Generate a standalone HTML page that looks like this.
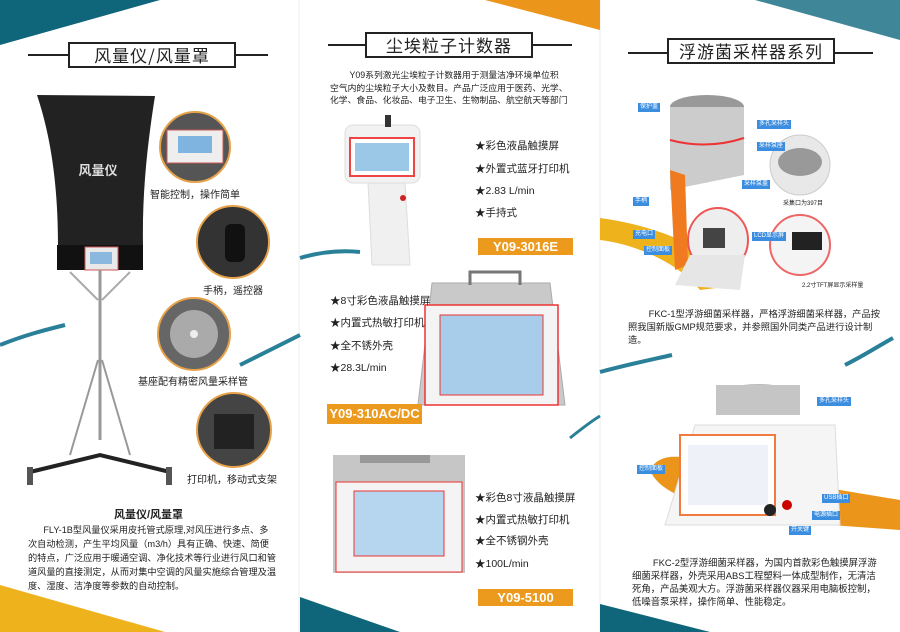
<!DOCTYPE html>
<html><head><meta charset="utf-8"><style>
body{margin:0;width:900px;height:632px;overflow:hidden;background:#fff;font-family:"Liberation Sans","Noto Sans CJK SC",sans-serif;position:relative;color:#222}
.a{position:absolute;white-space:nowrap}
.t{position:absolute;border:2px solid #222;background:#fff;font-size:17px;letter-spacing:1px;text-align:center;line-height:22px;white-space:nowrap;font-family:"Noto Sans CJK SC",sans-serif}
.ln{position:absolute;height:2px;background:#222}
.p{position:absolute;font-size:10px;line-height:14px;color:#222;white-space:nowrap}
.b{position:absolute;font-size:10.5px;white-space:nowrap}
.lab{position:absolute;background:#ec9a1d;color:#fff;font-size:13px;text-align:center;font-weight:bold}
.bl{position:absolute;background:#3b8de0;color:#fff;font-size:6px;padding:0 2px;line-height:9px;white-space:nowrap}
.cap{position:absolute;font-size:10px;white-space:nowrap}
</style></head><body>
<svg width="900" height="632" style="position:absolute;left:0;top:0">
<line x1="299" y1="0" x2="299" y2="632" stroke="#eee"/><line x1="600" y1="0" x2="600" y2="632" stroke="#eee"/>
<polygon points="0,0 160,0 0,45" fill="#0f6579"/>
<polygon points="485,0 600,0 600,30" fill="#ec951b"/>
<polygon points="755,0 900,0 900,40" fill="#3f8699"/>
<polygon points="0,585 165,632 0,632" fill="#eeb21d"/>
<polygon points="300,597 400,632 300,632" fill="#0f6579"/>
<polygon points="600,604 710,632 600,632" fill="#0f6579"/>
<path d="M600,218 C650,225 690,240 720,265 L740,285 L700,290 C680,265 640,245 600,240Z" fill="#eeb21d"/>
<path d="M650,470 C660,450 690,455 720,470 L900,500 L900,530 L760,520 C700,505 660,495 650,470Z" fill="#ec951b"/>
<path d="M0,345 C25,335 45,330 65,325" stroke="#2a8098" stroke-width="4" fill="none"/>
<path d="M240,365 C260,355 280,345 300,335" stroke="#2a8098" stroke-width="4" fill="none"/>
<path d="M300,258 C320,252 340,250 360,252" stroke="#2a8098" stroke-width="4" fill="none"/>
<path d="M570,438 C580,430 590,422 600,416" stroke="#2a8098" stroke-width="3" fill="none"/>
<path d="M600,372 C630,364 650,360 672,355" stroke="#2a8098" stroke-width="4" fill="none"/>
<path d="M845,365 C865,355 880,345 893,338" stroke="#2a8098" stroke-width="4" fill="none"/>
<!-- hood -->
<path d="M37,95 L155,96 C148,140 142,190 143,245 L58,245 C58,190 52,140 37,95Z" fill="#222"/>
<text x="98" y="175" fill="#ddd" font-size="13" font-weight="bold" text-anchor="middle" font-family="Noto Sans CJK SC">风量仪</text>
<rect x="57" y="245" width="86" height="25" fill="#111"/>
<rect x="85" y="247" width="33" height="23" fill="#e9e9e9" stroke="#c55" stroke-width="1"/><rect x="90" y="252" width="22" height="12" fill="#8bb8de"/>
<line x1="100" y1="270" x2="100" y2="440" stroke="#999" stroke-width="3"/>
<line x1="70" y1="272" x2="98" y2="300" stroke="#aaa" stroke-width="2"/><line x1="130" y1="272" x2="102" y2="300" stroke="#aaa" stroke-width="2"/>
<line x1="98" y1="360" x2="70" y2="455" stroke="#999" stroke-width="2"/><line x1="102" y1="360" x2="130" y2="455" stroke="#999" stroke-width="2"/>
<path d="M30,472 L100,455 L170,472" stroke="#222" stroke-width="4" fill="none"/>
<rect x="27" y="467" width="6" height="18" fill="#555"/><rect x="166" y="467" width="6" height="18" fill="#555"/>
<g stroke="#e6a24a" stroke-width="2">
<circle cx="195" cy="147" r="35" fill="#555"/><circle cx="233" cy="242" r="36" fill="#333"/>
<circle cx="194" cy="334" r="36" fill="#666"/><circle cx="234" cy="430" r="37" fill="#444"/></g>
<rect x="167" y="130" width="56" height="33" fill="#eee" stroke="#c55"/><rect x="178" y="136" width="34" height="17" fill="#7fb3e0"/>
<rect x="225" y="224" width="20" height="38" rx="6" fill="#111"/>
<circle cx="194" cy="334" r="24" fill="#aaa"/><circle cx="194" cy="334" r="4" fill="#eee"/>
<rect x="214" y="414" width="40" height="35" fill="#222"/>
<!-- middle devices -->
<rect x="345" y="125" width="75" height="58" rx="8" fill="#f2f2f2" stroke="#ddd"/>
<rect x="350" y="138" width="64" height="38" fill="#fff" stroke="#e44" stroke-width="2"/><rect x="355" y="143" width="54" height="28" fill="#9cc8e8"/>
<rect x="385" y="115" width="6" height="12" fill="#333"/>
<path d="M368,183 L405,183 L410,265 L372,265Z" fill="#f0f0f0" stroke="#ddd"/>
<circle cx="403" cy="198" r="3" fill="#c22"/>
<path d="M432,283 L550,283 L565,405 L418,405Z" fill="#c9c9c9" stroke="#aaa"/>
<rect x="425" y="305" width="133" height="100" fill="#f4f4f4" stroke="#e33" stroke-width="1.5"/>
<rect x="440" y="315" width="103" height="80" fill="#a8cdea" stroke="#e33"/>
<path d="M470,285 L470,272 L520,272 L520,285" stroke="#777" stroke-width="3" fill="none"/>
<rect x="333" y="455" width="132" height="118" fill="#c6c6c6"/>
<rect x="336" y="482" width="126" height="90" fill="#f4f4f4" stroke="#e33"/>
<rect x="354" y="491" width="90" height="65" fill="#b5d6ee" stroke="#e33"/>
<rect x="360" y="455" width="70" height="8" fill="#999"/>
<!-- right devices -->
<ellipse cx="707" cy="107" rx="37" ry="12" fill="#999"/>
<path d="M670,107 L744,107 L744,175 L670,190Z" fill="#ccc"/>
<path d="M670,140 Q707,150 744,138" stroke="#e33" stroke-width="2" fill="none"/>
<path d="M670,170 L675,270 L688,265 L685,175Z" fill="#f07a20"/>
<ellipse cx="718" cy="240" rx="30" ry="32" fill="#eee" stroke="#e55" stroke-width="2"/>
<rect x="703" y="228" width="22" height="20" fill="#444"/>
<path d="M690,255 L745,255 L740,290 L675,285Z" fill="#e6e6e6"/>
<circle cx="800" cy="165" r="30" fill="#e8e8e8" stroke="#ccc"/><ellipse cx="800" cy="162" rx="22" ry="14" fill="#999"/>
<circle cx="800" cy="245" r="30" fill="#f4f4f4" stroke="#e66" stroke-width="2"/><rect x="792" y="232" width="30" height="18" fill="#222"/>
<ellipse cx="758" cy="398" rx="42" ry="14" fill="#bbb"/><rect x="716" y="385" width="84" height="30" fill="#c5c5c5"/>
<path d="M695,425 L835,425 L840,525 L665,525 Z" fill="#f5f5f5" stroke="#ddd"/>
<rect x="680" y="435" width="95" height="80" fill="#fff" stroke="#f07a40" stroke-width="2"/><rect x="688" y="445" width="80" height="60" fill="#eef2f8"/>
<circle cx="770" cy="510" r="6" fill="#222"/><circle cx="787" cy="505" r="5" fill="#c00"/>
</svg>
<div class="ln" style="left:28px;top:54px;width:240px"></div>
<div class="t" style="left:68px;top:42px;width:164px">风量仪/风量罩</div>
<div class="ln" style="left:328px;top:44px;width:244px"></div>
<div class="t" style="left:365px;top:32px;width:164px">尘埃粒子计数器</div>
<div class="ln" style="left:628px;top:52px;width:245px"></div>
<div class="t" style="left:667px;top:38px;width:164px">浮游菌采样器系列</div>
<div class="cap" style="left:150px;top:186px">智能控制，操作简单</div>
<div class="cap" style="left:203px;top:282px">手柄，遥控器</div>
<div class="cap" style="left:138px;top:373px">基座配有精密风量采样管</div>
<div class="cap" style="left:187px;top:471px">打印机，移动式支架</div>
<div class="a" style="left:114px;top:506px;font-size:11px;font-weight:bold">风量仪/风量罩</div>
<div class="p" style="left:28px;top:523px;font-size:9.2px">&nbsp;&nbsp;&nbsp;&nbsp;&nbsp;&nbsp;FLY-1B型风量仪采用皮托管式原理,对风压进行多点、多<br>次自动检测，产生平均风量（m3/h）具有正确、快速、简便<br>的特点，广泛应用于暖通空调、净化技术等行业进行风口和管<br>道风量的直接测定，从而对集中空调的风量实施综合管理及温<br>度、湿度、洁净度等参数的自动控制。</div>
<div class="p" style="left:330px;top:69px;line-height:12.5px;font-size:8.8px">&nbsp;&nbsp;&nbsp;&nbsp;&nbsp;&nbsp;&nbsp;&nbsp;Y09系列激光尘埃粒子计数器用于测量洁净环境单位积<br>空气内的尘埃粒子大小及数目。产品广泛应用于医药、光学、<br>化学、食品、化妆品、电子卫生、生物制品、航空航天等部门</div>
<div class="b" style="left:475px;top:138px">★彩色液晶触摸屏</div>
<div class="b" style="left:475px;top:161px">★外置式蓝牙打印机</div>
<div class="b" style="left:475px;top:183px">★2.83 L/min</div>
<div class="b" style="left:475px;top:205px">★手持式</div>
<div class="lab" style="left:478px;top:238px;width:95px;height:17px;line-height:17px">Y09-3016E</div>
<div class="b" style="left:330px;top:293px">★8寸彩色液晶触摸屏</div>
<div class="b" style="left:330px;top:315px">★内置式热敏打印机</div>
<div class="b" style="left:330px;top:338px">★全不锈外壳</div>
<div class="b" style="left:330px;top:360px">★28.3L/min</div>
<div class="lab" style="left:327px;top:404px;width:95px;height:20px;line-height:20px">Y09-310AC/DC</div>
<div class="b" style="left:475px;top:490px">★彩色8寸液晶触摸屏</div>
<div class="b" style="left:475px;top:512px">★内置式热敏打印机</div>
<div class="b" style="left:475px;top:533px">★全不锈钢外壳</div>
<div class="b" style="left:475px;top:556px">★100L/min</div>
<div class="lab" style="left:478px;top:589px;width:95px;height:17px;line-height:17px">Y09-5100</div>
<div class="bl" style="left:638px;top:103px">保护盖</div>
<div class="bl" style="left:757px;top:120px">多孔采样头</div>
<div class="bl" style="left:757px;top:142px">采样泵座</div>
<div class="bl" style="left:742px;top:180px">采样泵盖</div>
<div class="bl" style="left:633px;top:197px">手柄</div>
<div class="bl" style="left:633px;top:230px">充电口</div>
<div class="bl" style="left:752px;top:232px">LCD显示屏</div>
<div class="bl" style="left:644px;top:246px">控制面板</div>
<div class="a" style="left:783px;top:198px;font-size:6px">采集口为397目</div>
<div class="a" style="left:802px;top:280px;font-size:6px">2.2寸TFT屏显示采样量</div>
<div class="p" style="left:628px;top:308px;font-size:9.3px;line-height:13px">&nbsp;&nbsp;&nbsp;&nbsp;&nbsp;&nbsp;&nbsp;&nbsp;FKC-1型浮游细菌采样器，严格浮游细菌采样器，产品按<br>照我国新版GMP规范要求，并参照国外同类产品进行设计制<br>造。</div>
<div class="bl" style="left:817px;top:397px">多孔采样头</div>
<div class="bl" style="left:637px;top:465px">控制面板</div>
<div class="bl" style="left:822px;top:494px">USB插口</div>
<div class="bl" style="left:812px;top:511px">电源插口</div>
<div class="bl" style="left:789px;top:526px">开关键</div>
<div class="p" style="left:632px;top:556px;font-size:9.4px;line-height:13px">&nbsp;&nbsp;&nbsp;&nbsp;&nbsp;&nbsp;&nbsp;&nbsp;FKC-2型浮游细菌采样器，为国内首款彩色触摸屏浮游<br>细菌采样器，外壳采用ABS工程塑料一体成型制作，无清洁<br>死角，产品美观大方。浮游菌采样器仪器采用电脑板控制，<br>低噪音泵采样，操作简单、性能稳定。</div>
</body></html>
